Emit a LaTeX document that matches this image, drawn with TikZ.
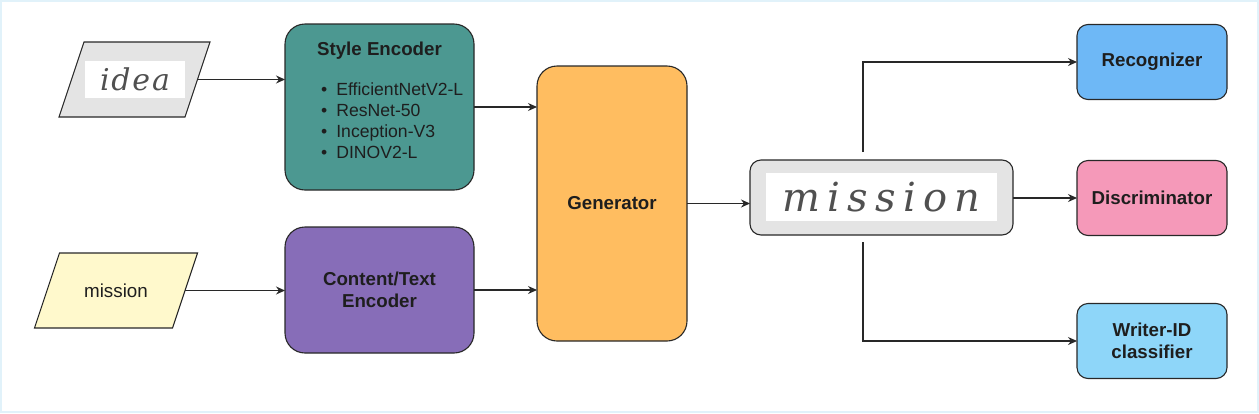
\documentclass[tikz,border=0pt]{standalone}
\usepackage{fontspec}
\setmainfont{Liberation Sans}
\newfontfamily\hand{DejaVu Serif}
\usetikzlibrary{arrows.meta}
\definecolor{frameblue}{RGB}{225,242,250}
\definecolor{strokec}{RGB}{40,40,40}
\definecolor{txt}{RGB}{30,30,30}
\definecolor{teal}{RGB}{76,152,145}
\definecolor{purp}{RGB}{135,109,184}
\definecolor{orng}{RGB}{255,189,96}
\definecolor{lgray}{RGB}{228,228,228}
\definecolor{recblue}{RGB}{110,184,246}
\definecolor{pinkc}{RGB}{245,153,185}
\definecolor{skyc}{RGB}{142,214,249}
\definecolor{yell}{RGB}{255,249,204}
\definecolor{inkc}{RGB}{80,80,80}
\begin{document}
\begin{tikzpicture}[x=1pt,y=-1pt,
  box/.style={draw=strokec, line width=1.1pt, rounded corners=20pt, inner sep=0pt, outer sep=0pt, text=txt, align=center, font=\bfseries\fontsize{18.7}{22}\selectfont},
  sbox/.style={box, rounded corners=11pt, minimum width=150pt, minimum height=75pt},
  paraanchor/.style={inner sep=0pt, outer sep=0pt, minimum height=75pt},
  paraline/.style={draw=strokec, line width=1.1pt, line join=miter},
  arr/.style={draw=strokec, line width=1.1pt, -{Stealth[length=9pt,width=8pt]}},
  img/.style={fill=white, inner sep=0pt, text=inkc}
]
\useasboundingbox (0,0) rectangle (1259,413);
\draw[frameblue, line width=2pt] (1,1) rectangle (1258,412);

% inputs
\node[paraanchor, minimum width=126pt] (idea) at (134.5,79.5) {};
\draw[paraline, fill=lgray] ([xshift=12.5pt]idea.north west) -- ([xshift=12.5pt]idea.north east) -- ([xshift=-12.5pt]idea.south east) -- ([xshift=-12.5pt]idea.south west) -- cycle;
\node[img, minimum width=100pt, minimum height=37pt] (ideaimg) at (135,79) {\hand\itshape\fontsize{30}{30}\selectfont\addfontfeature{LetterSpace=6}idea};
\node[paraanchor, minimum width=138pt] (mis) at (116,290.5) {};
\draw[paraline, fill=yell] ([xshift=12.5pt]mis.north west) -- ([xshift=12.5pt]mis.north east) -- ([xshift=-12.5pt]mis.south east) -- ([xshift=-12.5pt]mis.south west) -- cycle;
\node[text=txt, font=\fontsize{18.8}{22}\selectfont] (mistext) at (mis) {mission};

% encoders
\node[box, fill=teal, minimum width=189pt, minimum height=166pt] (style) at (379.5,107) {};
\node[text=txt, font=\bfseries\fontsize{18.7}{22}\selectfont] (stitle) at (379.5,51) {Style Encoder};
\node[text=txt, anchor=north west, inner sep=0pt, font=\fontsize{17.6}{21}\selectfont] (slist) at (321,80.5)
  {\begin{tabular}{@{}l@{\hspace{9pt}}l@{}}
  \textbullet & EfficientNetV2-L\\
  \textbullet & ResNet-50\\
  \textbullet & Inception-V3\\
  \textbullet & DINOV2-L
  \end{tabular}};
\node[box, fill=purp, minimum width=189pt, minimum height=126pt] (content) at (379.5,290) {Content/Text\\Encoder};

% generator
\node[box, fill=orng, minimum width=150pt, minimum height=275pt] (gen) at (612,203.5) {Generator};

% output image
\node[box, rounded corners=11pt, fill=lgray, minimum width=263pt, minimum height=75pt] (mbox) at (881.5,197.5) {};
\node[img, minimum width=231pt, minimum height=48pt] (mimg) at (881.5,197) {\hand\itshape\fontsize{40}{40}\selectfont\addfontfeature{LetterSpace=18}mission};

% heads
\node[sbox, fill=recblue] (rec) at (1152,62) {Recognizer};
\node[sbox, fill=pinkc] (disc) at (1152,198) {Discriminator};
\node[sbox, fill=skyc] (wid) at (1152,341) {Writer-ID\\classifier};

% connectors
\draw[arr] (idea.east) -- (idea.east -| style.west);
\draw[arr] (mis.east) -- (mis.east -| content.west);
\coordinate (sout) at (style.east |- 0,107);
\draw[arr] (sout) -- (sout -| gen.west);
\draw[arr] (content.east) -- (content.east -| gen.west);
\draw[arr] (gen.east) -- (gen.east -| mbox.west);
\draw[arr] (disc.west -| mbox.east) -- (disc.west);
\coordinate (rtop) at (863,152);
\coordinate (rbot) at (863,242);
\draw[arr] (rtop) |- (rec.west);
\draw[arr] (rbot) |- (wid.west);
\end{tikzpicture}
\end{document}
